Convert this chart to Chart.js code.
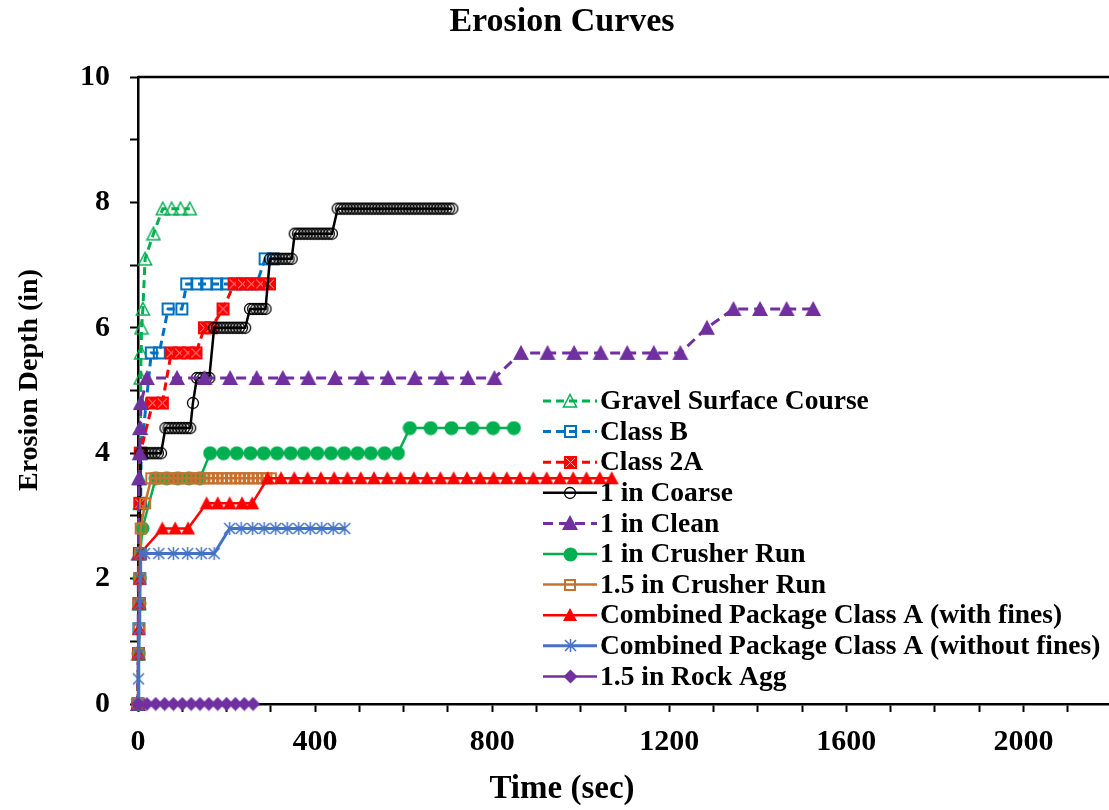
<!DOCTYPE html>
<html>
<head>
<meta charset="utf-8">
<title>Erosion Curves</title>
<script src="https://cdn.jsdelivr.net/npm/chart.js@4.4.1/dist/chart.umd.min.js"></script>
<style>
  html, body { margin: 0; padding: 0; background: #fff; overflow: hidden; }
  #caja { width: 1120px; height: 810px; }
</style>
</head>
<body>
<div id="caja"><canvas id="grafico" width="1120" height="810"></canvas></div>
<script>
// ---- datos (tiempo en s, profundidad en in) ----
const gravelT = [0, 1, 2, 3, 4, 4, 5, 5, 6, 6, 7, 8, 11, 16, 35, 56, 76, 96, 117];
const gravelD = [0, 0.8, 1.6, 2.4, 3.2, 3.6, 4.0, 4.4, 4.8, 5.2, 5.6, 6.0, 6.3, 7.1, 7.5, 7.9, 7.9, 7.9, 7.9];

const classBT = [0, 1, 2, 3, 4, 5, 6, 7, 30, 48, 68, 99, 110, 133, 155, 178, 200, 222, 245, 268, 287, 305];
const classBD = [0, 0.8, 1.2, 1.6, 2.0, 2.4, 3.2, 4.0, 5.6, 5.6, 6.3, 6.3, 6.7, 6.7, 6.7, 6.7, 6.7, 6.7, 6.7, 6.7, 7.1, 7.1];

const class2AT = [0, 1, 2, 3, 4, 5, 33, 55, 75, 94, 113, 131, 150, 165, 192, 217, 236, 256, 277, 297];
const class2AD = [0, 0.8, 1.6, 2.4, 3.2, 4.0, 4.8, 4.8, 5.6, 5.6, 5.6, 5.6, 6.0, 6.0, 6.3, 6.7, 6.7, 6.7, 6.7, 6.7];

const coarseT = [0, 3, 6,
  10, 17, 24, 31, 38, 45, 52,
  62, 69, 76, 83, 90, 97, 104, 111, 118,
  124,
  133, 140, 147, 154, 161,
  172, 179, 186, 193, 200, 207, 214, 221, 228, 235, 242,
  253, 260, 267, 274, 281, 288,
  298, 305, 312, 319, 326, 333, 340, 347,
  354, 361, 368, 375, 382, 389, 396, 403, 410, 417, 424, 431, 438,
  451, 458, 465, 472, 479, 486, 493, 500, 507, 514, 521, 528, 535, 542, 549, 556, 563, 570, 577,
  584, 591, 598, 605, 612, 619, 626, 633, 640, 647, 654, 661, 668, 675, 682, 689, 696, 703, 710];
const coarseD = [0, 2.4, 4.0,
  4.0, 4.0, 4.0, 4.0, 4.0, 4.0, 4.0,
  4.4, 4.4, 4.4, 4.4, 4.4, 4.4, 4.4, 4.4, 4.4,
  4.8,
  5.2, 5.2, 5.2, 5.2, 5.2,
  6.0, 6.0, 6.0, 6.0, 6.0, 6.0, 6.0, 6.0, 6.0, 6.0, 6.0,
  6.3, 6.3, 6.3, 6.3, 6.3, 6.3,
  7.1, 7.1, 7.1, 7.1, 7.1, 7.1, 7.1, 7.1,
  7.5, 7.5, 7.5, 7.5, 7.5, 7.5, 7.5, 7.5, 7.5, 7.5, 7.5, 7.5, 7.5,
  7.9, 7.9, 7.9, 7.9, 7.9, 7.9, 7.9, 7.9, 7.9, 7.9, 7.9, 7.9, 7.9, 7.9, 7.9, 7.9, 7.9, 7.9, 7.9,
  7.9, 7.9, 7.9, 7.9, 7.9, 7.9, 7.9, 7.9, 7.9, 7.9, 7.9, 7.9, 7.9, 7.9, 7.9, 7.9, 7.9, 7.9, 7.9];

const cleanT = [0, 1, 2, 4, 5, 7, 20, 88, 150, 208, 268, 327, 385, 445, 505, 565, 625, 685, 745, 805,
  865, 925, 985, 1045, 1105, 1165, 1225, 1285, 1345, 1405, 1465, 1525];
const cleanD = [0, 2.4, 3.6, 4.0, 4.4, 4.8, 5.2, 5.2, 5.2, 5.2, 5.2, 5.2, 5.2, 5.2, 5.2, 5.2, 5.2, 5.2, 5.2, 5.2,
  5.6, 5.6, 5.6, 5.6, 5.6, 5.6, 5.6, 6.0, 6.3, 6.3, 6.3, 6.3];

const crusherT = [0, 2, 3, 4, 5, 10, 40, 65, 90, 115, 140,
  163, 193, 223, 254, 284, 314, 345, 375, 405, 436, 466, 496, 526, 557, 587,
  614, 661, 708, 755, 802, 849];
const crusherD = [0, 0.8, 1.6, 2.0, 2.4, 2.8, 3.6, 3.6, 3.6, 3.6, 3.6,
  4.0, 4.0, 4.0, 4.0, 4.0, 4.0, 4.0, 4.0, 4.0, 4.0, 4.0, 4.0, 4.0, 4.0, 4.0,
  4.4, 4.4, 4.4, 4.4, 4.4, 4.4];

const crusher15T = [0, 1, 2, 3, 4, 5, 6, 16, 30, 40, 50, 60, 70, 80, 90, 100, 110, 120, 130, 140,
  150, 160, 170, 180, 190, 200, 210, 220, 230, 240, 250, 260, 270, 280, 290, 300];
const crusher15D = [0, 0.8, 1.2, 1.6, 2.0, 2.4, 2.8, 3.2, 3.6, 3.6, 3.6, 3.6, 3.6, 3.6, 3.6, 3.6, 3.6, 3.6, 3.6, 3.6,
  3.6, 3.6, 3.6, 3.6, 3.6, 3.6, 3.6, 3.6, 3.6, 3.6, 3.6, 3.6, 3.6, 3.6, 3.6, 3.6];

const finesT = [0, 1, 2, 3, 4, 5, 55, 84, 113, 155, 180, 207, 235, 258,
  293, 323, 353, 383, 413, 443, 473, 503, 533, 563, 593, 623, 653, 683, 713, 743, 773, 803, 833, 863,
  893, 923, 953, 983, 1013, 1043, 1070];
const finesD = [0, 0.8, 1.2, 1.6, 2.0, 2.4, 2.8, 2.8, 2.8, 3.2, 3.2, 3.2, 3.2, 3.2,
  3.6, 3.6, 3.6, 3.6, 3.6, 3.6, 3.6, 3.6, 3.6, 3.6, 3.6, 3.6, 3.6, 3.6, 3.6, 3.6, 3.6, 3.6, 3.6, 3.6,
  3.6, 3.6, 3.6, 3.6, 3.6, 3.6, 3.6];

const noFinesT = [0, 1, 2, 3, 4, 5, 6, 15, 47, 80, 112, 143, 172, 207, 233, 259, 285, 311, 337, 363, 389, 415, 441, 467];
const noFinesD = [0, 0.4, 0.8, 1.2, 1.6, 2.0, 2.4, 2.4, 2.4, 2.4, 2.4, 2.4, 2.4, 2.8, 2.8, 2.8, 2.8, 2.8, 2.8, 2.8, 2.8, 2.8, 2.8, 2.8];

const rockT = [0, 20, 40, 60, 80, 100, 120, 140, 160, 180, 200, 220, 240, 260];
const rockD = [0, 0, 0, 0, 0, 0, 0, 0, 0, 0, 0, 0, 0, 0];

const xTicks = [0, 400, 800, 1200, 1600, 2000];
const yTicks = [0, 2, 4, 6, 8, 10];

const serif = '"Liberation Serif", "Times New Roman", serif';

// marcadores dibujados a mano (estilo Excel)
function marcador(tipo, color, tam) {
  const c = document.createElement('canvas');
  c.width = tam; c.height = tam;
  const g = c.getContext('2d');
  const m = tam / 2;
  g.strokeStyle = color;
  g.fillStyle = color;
  g.lineWidth = 1.5;
  g.beginPath();
  switch (tipo) {
    case 'triVacio':
      g.moveTo(m, 1.5); g.lineTo(tam - 1.5, tam - 2); g.lineTo(1.5, tam - 2); g.closePath(); g.stroke();
      break;
    case 'triLleno':
      g.moveTo(m, 1); g.lineTo(tam - 1, tam - 2); g.lineTo(1, tam - 2); g.closePath(); g.fill();
      break;
    case 'cuadVacio':
      g.lineWidth = 2;
      g.strokeRect(2, 2, tam - 4, tam - 4);
      break;
    case 'cuadX':
      g.fillRect(1, 1, tam - 2, tam - 2);
      g.strokeStyle = '#ffb0b0'; g.lineWidth = 1;
      g.moveTo(3, 3); g.lineTo(tam - 3, tam - 3); g.moveTo(tam - 3, 3); g.lineTo(3, tam - 3); g.stroke();
      break;
    case 'circVacio':
      g.lineWidth = 1.3;
      g.arc(m, m, m - 1.5, 0, Math.PI * 2); g.stroke();
      break;
    case 'circLleno':
      g.arc(m, m, m - 0.5, 0, Math.PI * 2); g.fill();
      break;
    case 'rombo':
      g.moveTo(m, 0.5); g.lineTo(tam - 0.5, m); g.lineTo(m, tam - 0.5); g.lineTo(0.5, m); g.closePath(); g.fill();
      break;
    case 'estrella':
      g.moveTo(2, 2); g.lineTo(tam - 2, tam - 2); g.moveTo(tam - 2, 2); g.lineTo(2, tam - 2);
      g.moveTo(m, 1); g.lineTo(m, tam - 1); g.stroke();
      break;
  }
  return c;
}

function puntos(ts, ds) {
  return ts.map((t, i) => ({ x: t, y: ds[i] }));
}

const series = [
  { label: 'Gravel Surface Course', t: gravelT, d: gravelD, color: '#00B050', dash: [8, 5], ancho: 3, marca: marcador('triVacio', '#00B050', 16) },
  { label: 'Class B', t: classBT, d: classBD, color: '#0070C0', dash: [8, 5], ancho: 3, marca: marcador('cuadVacio', '#0070C0', 15) },
  { label: 'Class 2A', t: class2AT, d: class2AD, color: '#FF0000', dash: [8, 5], ancho: 3, marca: marcador('cuadX', '#FF0000', 15) },
  { label: '1 in Coarse', t: coarseT, d: coarseD, color: '#000000', dash: [], ancho: 2.5, marca: marcador('circVacio', '#000000', 14) },
  { label: '1 in Clean', t: cleanT, d: cleanD, color: '#7030A0', dash: [10, 6], ancho: 3, marca: marcador('triLleno', '#7030A0', 18) },
  { label: '1 in Crusher Run', t: crusherT, d: crusherD, color: '#00B050', dash: [], ancho: 2.5, marca: marcador('circLleno', '#00B050', 15) },
  { label: '1.5 in Crusher Run', t: crusher15T, d: crusher15D, color: '#C8702E', dash: [], ancho: 2.5, marca: marcador('cuadVacio', '#C8702E', 14) },
  { label: 'Combined Package Class A (with fines)', t: finesT, d: finesD, color: '#FF0000', dash: [], ancho: 2.5, marca: marcador('triLleno', '#FF0000', 16) },
  { label: 'Combined Package Class A (without fines)', t: noFinesT, d: noFinesD, color: '#4472C4', dash: [], ancho: 3, marca: marcador('estrella', '#4472C4', 15) },
  { label: '1.5 in Rock Agg', t: rockT, d: rockD, color: '#7030A0', dash: [], ancho: 2.5, marca: marcador('rombo', '#7030A0', 15) }
];

const datasets = series.map((s, i) => ({
  label: s.label,
  data: puntos(s.t, s.d),
  borderColor: s.color,
  backgroundColor: s.color,
  borderWidth: s.ancho,
  borderDash: s.dash,
  pointStyle: s.marca,
  pointRadius: 5,
  tension: 0,
  clip: false,
  order: series.length - i
}));

// marco superior, titulos y leyenda con linea + marcador
const decorado = {
  id: 'decorado',
  afterDraw(chart) {
    const { ctx, chartArea } = chart;
    ctx.save();
    ctx.strokeStyle = '#000';
    ctx.lineWidth = 2.5;
    ctx.beginPath();
    ctx.moveTo(chartArea.left, chartArea.top);
    ctx.lineTo(chartArea.right, chartArea.top);
    ctx.stroke();

    ctx.fillStyle = '#000';
    ctx.textAlign = 'center';
    ctx.textBaseline = 'middle';
    ctx.font = 'bold 34px ' + serif;
    ctx.fillText('Erosion Curves', 562, 22);
    ctx.font = 'bold 33px ' + serif;
    ctx.fillText('Time (sec)', 562, 789);
    ctx.save();
    ctx.translate(30, 380);
    ctx.rotate(-Math.PI / 2);
    ctx.font = 'bold 28px ' + serif;
    ctx.fillText('Erosion Depth (in)', 0, 0);
    ctx.restore();

    ctx.font = 'bold 27.5px ' + serif;
    ctx.textAlign = 'left';
    series.forEach((s, i) => {
      const y = 401 + i * 30.6;
      ctx.strokeStyle = s.color;
      ctx.lineWidth = s.ancho;
      ctx.setLineDash(s.dash);
      ctx.beginPath();
      ctx.moveTo(543, y);
      ctx.lineTo(597, y);
      ctx.stroke();
      ctx.setLineDash([]);
      ctx.drawImage(s.marca, Math.round(570 - s.marca.width / 2), Math.round(y - s.marca.height / 2));
      ctx.fillStyle = '#000';
      ctx.fillText(s.label, 600, y + 1);
    });
    ctx.restore();
  }
};

const fuenteTicks = { family: serif, size: 30, weight: 'bold' };

new Chart(document.getElementById('grafico'), {
  type: 'line',
  data: { datasets },
  options: {
    responsive: false,
    animation: false,
    devicePixelRatio: 1,
    events: [],
    layout: { padding: { left: 0, right: 0, top: 77, bottom: 0 } },
    plugins: {
      legend: { display: false },
      tooltip: { enabled: false },
      title: { display: false }
    },
    scales: {
      x: {
        type: 'linear',
        min: 0,
        max: 2200,
        afterFit: s => { s.height = 106; s.paddingLeft = 0; s.paddingRight = 0; },
        border: { display: true, color: '#000', width: 2.5 },
        grid: { drawOnChartArea: false, drawTicks: true, tickLength: 8, tickWidth: 2, tickColor: '#000' },
        ticks: {
          stepSize: 100,
          autoSkip: false,
          maxRotation: 0,
          padding: 12,
          color: '#000',
          font: fuenteTicks,
          callback: v => xTicks.includes(v) ? String(v) : ''
        }
      },
      y: {
        type: 'linear',
        min: 0,
        max: 10,
        afterFit: s => { s.width = 138; },
        border: { display: true, color: '#000', width: 2.5 },
        grid: { drawOnChartArea: false, drawTicks: true, tickLength: 8, tickWidth: 2, tickColor: '#000' },
        ticks: {
          stepSize: 1,
          autoSkip: false,
          padding: 20,
          color: '#000',
          font: fuenteTicks,
          callback: v => yTicks.includes(v) ? String(v) : ''
        }
      }
    }
  },
  plugins: [decorado]
});
</script>
</body>
</html>
